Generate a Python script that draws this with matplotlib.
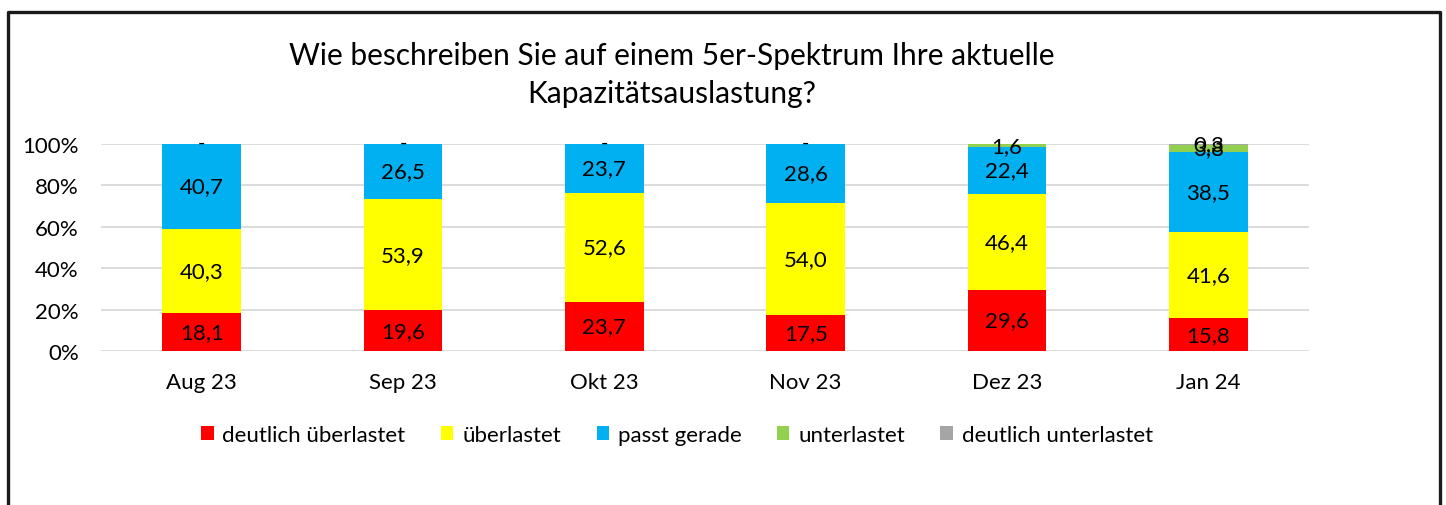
import numpy as np
import matplotlib
matplotlib.use('Agg')
import matplotlib.pyplot as plt
from matplotlib.lines import Line2D
from matplotlib.patches import Patch

plt.rcParams['font.family'] = ['Lato', 'DejaVu Sans']

months = ["Aug 23", "Sep 23", "Okt 23", "Nov 23", "Dez 23", "Jan 24"]
series_names = ["deutlich überlastet", "überlastet", "passt gerade",
                "unterlastet", "deutlich unterlastet"]
deutlich_ueberlastet = [18.1, 19.6, 23.7, 17.5, 29.6, 15.8]
ueberlastet = [40.3, 53.9, 52.6, 54.0, 46.4, 41.6]
passt_gerade = [40.7, 26.5, 23.7, 28.6, 22.4, 38.5]
unterlastet = [0.0, 0.0, 0.0, 0.0, 1.6, 3.8]
deutlich_unterlastet = [0.0, 0.0, 0.0, 0.0, 0.0, 0.3]
colors = ["#FF0000", "#FFFF00", "#00B0F0", "#92D050", "#A5A5A5"]

values = np.array([deutlich_ueberlastet, ueberlastet, passt_gerade,
                   unterlastet, deutlich_unterlastet])
shares = values / values.sum(axis=0) * 100

fig = plt.figure(figsize=(14.46, 5.06), dpi=100)
ax = fig.add_axes([101 / 1446, 1 - 352 / 506, 1208 / 1446, 207 / 506])

x = np.arange(len(months))
bottom = np.zeros(len(months))
for i, name in enumerate(series_names):
    ax.bar(x, shares[i], 0.39, bottom=bottom, color=colors[i], zorder=2)
    for j in range(len(months)):
        if values[i, j] == 0:
            if i == 3:
                ax.text(x[j], bottom[j] + 0.8, "-", ha='center', va='center',
                        fontsize=14, zorder=3)
        else:
            lbl = ("%.1f" % values[i, j]).replace(".", ",")
            ax.text(x[j], bottom[j] + shares[i, j] / 2, lbl, ha='center',
                    va='center', fontsize=16, zorder=3)
    bottom += shares[i]

ax.set_xlim(-0.5, len(months) - 0.5)
ax.set_ylim(0, 100)
ax.set_yticks(np.arange(0, 101, 20))
ax.set_yticklabels(["%d%%" % v for v in range(0, 101, 20)])
ax.set_xticks(x)
ax.set_xticklabels(months)
ax.tick_params(length=0, labelsize=16)
ax.tick_params(axis='x', pad=15)
ax.tick_params(axis='y', pad=16)
ax.grid(axis='y', color='#D9D9D9', linewidth=1.3, zorder=0)
for s in ax.spines.values():
    s.set_visible(False)

fig.text(672 / 1446, 1 - 75 / 506,
         "Wie beschreiben Sie auf einem 5er-Spektrum Ihre aktuelle\nKapazitätsauslastung?",
         ha='center', va='center', fontsize=21.5, linespacing=1.45)

handles = [Patch(facecolor=c) for c in colors]
fig.legend(handles, series_names, loc='center', ncol=5,
           bbox_to_anchor=(677 / 1446, 1 - 436 / 506), frameon=False,
           fontsize=16, handlelength=0.55, handleheight=0.55,
           handletextpad=0.4, columnspacing=1.6)

# outer frame (left, top, right)
fx = [8 / 1446, 8 / 1446, 1440 / 1446, 1440 / 1446]
fy = [0.0, 1 - 13 / 506, 1 - 13 / 506, 0.0]
fig.add_artist(Line2D(fx, fy, transform=fig.transFigure, color='#1a1a1a',
                      linewidth=2.4))

fig.savefig("out.png", dpi=100)
